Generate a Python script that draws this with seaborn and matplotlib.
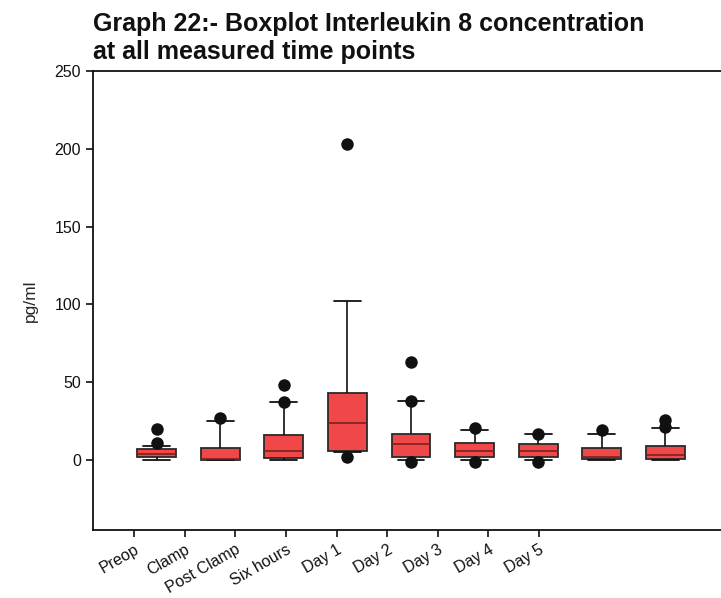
import numpy as np
import pandas as pd
import matplotlib
matplotlib.use("Agg")
import matplotlib.pyplot as plt
import seaborn as sns

# Interleukin 8 (pg/ml) summary per time point
time_points = ["Preop", "Clamp", "Post Clamp", "Six hours", "Day 1",
               "Day 2", "Day 3", "Day 4", "Day 5"]
whisker_low = [0, 0, 0, 5, 0, 0, 0, 0, 0]
quartile_1 = [2, 0, 1, 6, 2, 2, 2, 0.5, 0.5]
median = [4, 0.5, 6, 24, 10, 6, 6, 2, 3]
quartile_3 = [7, 8, 16, 43, 17, 11, 10, 7.5, 9]
whisker_high = [9, 25, 37, 102, 38, 19, 17, 17, 20.5]
outliers = {
    "Preop": [11, 20],
    "Clamp": [27],
    "Post Clamp": [37.5, 48],
    "Six hours": [2, 203],
    "Day 1": [-1, 38, 63],
    "Day 2": [-1, 20.5],
    "Day 3": [-1, 17],
    "Day 4": [19],
    "Day 5": [21.5, 25.5],
}

sns.set_style("ticks")
plt.rcParams["font.family"] = ["Liberation Sans", "DejaVu Sans"]

# five-number rows per group: quartiles of these rows are the summary values
summary = pd.DataFrame({
    "time": np.repeat(time_points, 5),
    "value": np.column_stack([whisker_low, quartile_1, median,
                              quartile_3, whisker_high]).ravel(),
})
extreme = pd.DataFrame(
    [(k, v) for k, vals in outliers.items() for v in vals],
    columns=["time", "value"],
)

fig = plt.figure(figsize=(7.21, 5.98), dpi=100)
ax = fig.add_axes([93 / 721, 1 - 530 / 598, 636 / 721, 459 / 598])

sns.boxplot(
    data=summary, x="time", y="value", order=time_points, ax=ax,
    whis=(0, 100), width=0.61, color="#f04848", saturation=1,
    linecolor="#2a2a2a", linewidth=1.3, showfliers=False,
    capwidths=0.42,
    medianprops=dict(color="#7a2020", linewidth=1.2),
    whiskerprops=dict(color="#111111", linewidth=1.2),
    capprops=dict(color="#111111", linewidth=1.3),
)
sns.stripplot(
    data=extreme, x="time", y="value", order=time_points, ax=ax,
    jitter=False, color="#111111", size=9, linewidth=0, zorder=5,
)

ax.set_xlim(-1, 9)
ax.set_ylim(-45, 250)
ax.set_yticks([0, 50, 100, 150, 200, 250])
ax.tick_params(axis="both", labelsize=11.5, length=5, width=1.2,
               direction="out", colors="#111111")

# category labels sit on their own evenly spaced ticks
tick_pos = -0.35 + 0.795 * np.arange(len(time_points))
ax.set_xticks(tick_pos)
ax.set_xticklabels(time_points, rotation=30, ha="right",
                   rotation_mode="anchor")

ax.set_xlabel("")
ax.set_ylabel("pg/ml", fontsize=12.5, labelpad=12)
for side in ["left", "bottom", "top"]:
    ax.spines[side].set_visible(True)
    ax.spines[side].set_color("#111111")
    ax.spines[side].set_linewidth(1.3)
ax.spines["right"].set_visible(False)

fig.text(93 / 721, 1 - 12 / 598,
         "Graph 22:- Boxplot Interleukin 8 concentration\n"
         "at all measured time points",
         fontsize=18, fontweight="bold", ha="left", va="top",
         linespacing=1.2, color="#111111")

fig.savefig("out.png", dpi=100)
